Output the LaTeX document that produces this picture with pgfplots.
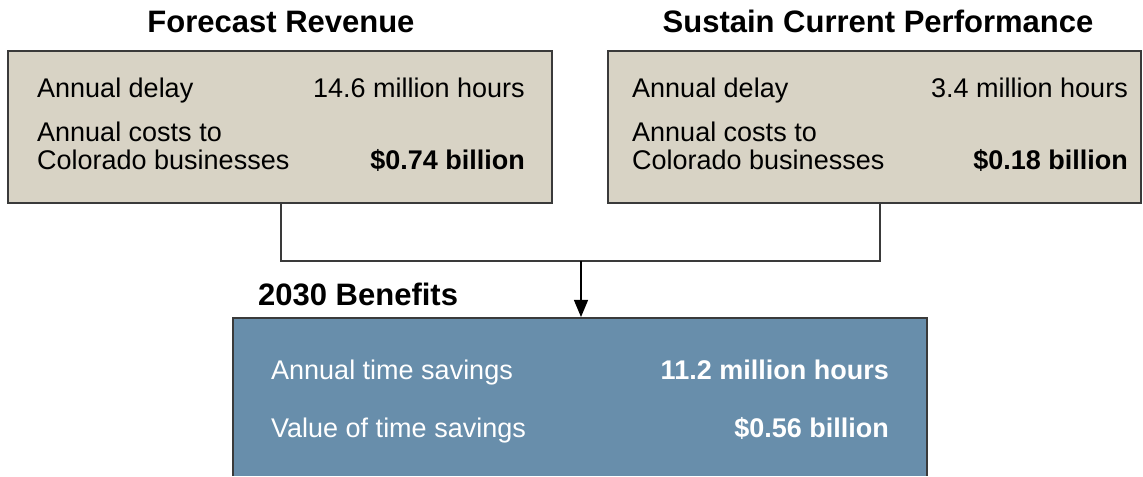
\documentclass[border=0pt]{standalone}
\usepackage{fontspec}
\setmainfont{Liberation Sans}
\usepackage{pgfplots}
\pgfplotsset{compat=1.18}
\usetikzlibrary{arrows.meta}
\definecolor{BoxTan}{HTML}{D8D3C5}
\definecolor{BoxBlue}{HTML}{688EAB}
\definecolor{Edge}{HTML}{3A3A3A}
\newcommand{\body}{\fontsize{27}{32}\selectfont}
\newcommand{\head}{\fontsize{31}{37}\selectfont\bfseries}

\begin{document}
\begin{tikzpicture}
  \begin{axis}[
    width=1143pt, height=476pt, scale only axis,
    xmin=0, xmax=1143, ymin=0, ymax=476,
    axis lines=none, clip=false, no markers
  ]
    %% keep the full canvas in the bounding box
    \addplot[draw=none] coordinates {(0,0)(1143,476)};
    %% top boxes
    \addplot[fill=BoxTan, draw=Edge, line width=1.6pt]
      coordinates {(8,425)(552,425)(552,273)(8,273)} -- cycle;
    \addplot[fill=BoxTan, draw=Edge, line width=1.6pt]
      coordinates {(608,425)(1141,425)(1141,273)(608,273)} -- cycle;
    %% connector
    \addplot[Edge, line width=1.2pt]
      coordinates {(281,273)(281,215)(880,215)(880,273)};
    %% bottom box
    \addplot[fill=BoxBlue, draw=none]
      coordinates {(233,0)(233,158)(927,158)(927,0)} -- cycle;
    \addplot[Edge, line width=1.6pt]
      coordinates {(233,0)(233,158)(927,158)(927,0)};
    \addplot[black, line width=1.2pt, -{Triangle[length=17pt,width=14pt]}]
      coordinates {(581,215)(581,159)};

    %% headings
    \node[anchor=base, inner sep=0, font=\head] at (axis cs:281,443) {Forecast Revenue};
    \node[anchor=base, inner sep=0, font=\head] at (axis cs:878,443) {Sustain Current Performance};
    \node[anchor=base west, inner sep=0, font=\head] at (axis cs:258,170) {2030 Benefits};

    %% left box text
    \node[anchor=base west, inner sep=0, font=\body] at (axis cs:37,378) {Annual delay};
    \node[anchor=base west, inner sep=0, font=\body] at (axis cs:37,334) {Annual costs to};
    \node[anchor=base west, inner sep=0, font=\body] at (axis cs:37,306) {Colorado businesses};
    \node[anchor=base east, inner sep=0, font=\body] at (axis cs:525,378) {14.6 million hours};
    \node[anchor=base east, inner sep=0, font=\body\bfseries] at (axis cs:525,306) {\$0.74 billion};

    %% right box text
    \node[anchor=base west, inner sep=0, font=\body] at (axis cs:632,378) {Annual delay};
    \node[anchor=base west, inner sep=0, font=\body] at (axis cs:632,334) {Annual costs to};
    \node[anchor=base west, inner sep=0, font=\body] at (axis cs:632,306) {Colorado businesses};
    \node[anchor=base east, inner sep=0, font=\body] at (axis cs:1128,378) {3.4 million hours};
    \node[anchor=base east, inner sep=0, font=\body\bfseries] at (axis cs:1128,306) {\$0.18 billion};

    %% bottom box text
    \node[anchor=base west, inner sep=0, font=\body, text=white] at (axis cs:271,96) {Annual time savings};
    \node[anchor=base west, inner sep=0, font=\body, text=white] at (axis cs:271,39) {Value of time savings};
    \node[anchor=base east, inner sep=0, font=\body\bfseries, text=white] at (axis cs:889,96) {11.2 million hours};
    \node[anchor=base east, inner sep=0, font=\body\bfseries, text=white] at (axis cs:889,39) {\$0.56 billion};
  \end{axis}
\end{tikzpicture}
\end{document}
